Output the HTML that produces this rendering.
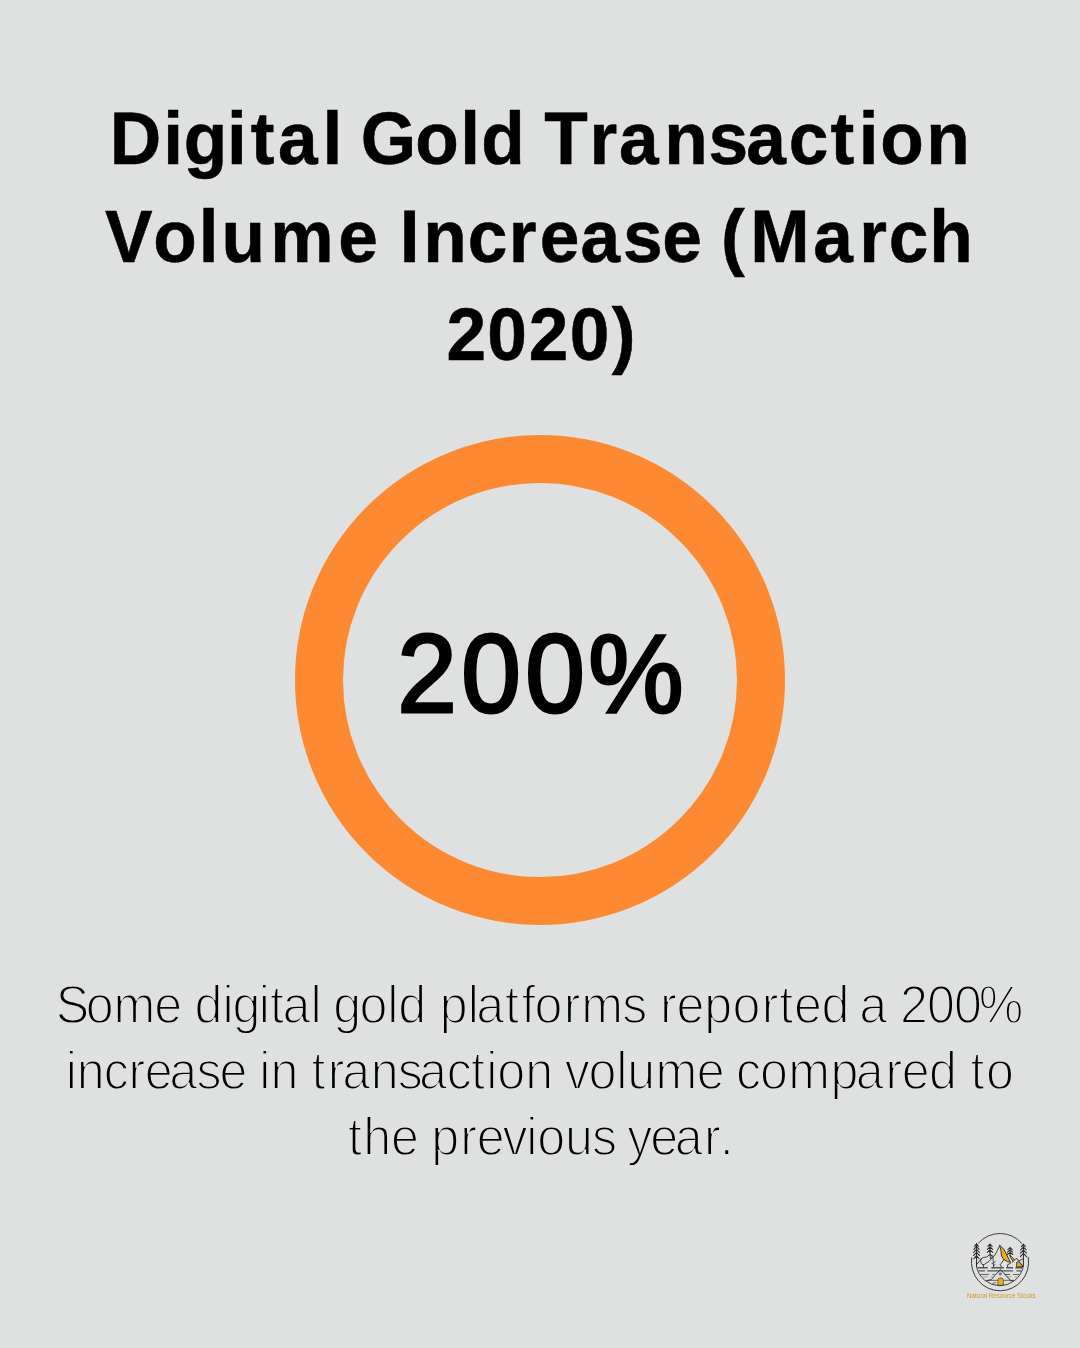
<!DOCTYPE html>
<html lang="en"><head><meta charset="utf-8"><title>Digital Gold Transaction Volume Increase (March 2020)</title>
<style>
html,body{margin:0;padding:0}
html{background:#dfe1e0}
body{width:1080px;height:1348px;background:#dfe1e0;position:relative;overflow:hidden;font-family:"Liberation Sans",sans-serif;color:#000}
.ring{position:absolute;left:295px;top:435px;width:490px;height:490px;border-radius:50%;box-sizing:border-box;border:48.5px solid #fd8a32}
svg.txt{position:absolute;left:0;top:0;font-family:"Liberation Sans",sans-serif;fill:#000}
.t{font-weight:700;font-size:74.5px;stroke:#000;stroke-width:0.55}
.n{font-weight:400;font-size:111px;stroke:#000;stroke-width:3.0}
.b{font-weight:400;font-size:51px;stroke:#dfe1e0;stroke-width:1.75}
</style></head><body>
<div class="ring"></div>
<svg class="txt" width="1080" height="1348" viewBox="0 0 1080 1348">
<text class="t" transform="translate(0,164) scale(0.9562,1.0)" x="114.85 170.67 192.07 237.35 262.29 290.61 337.17 358.87 377.29 434.34 481.22 503.41 550.20 569.12 616.62 647.48 694.59 740.95 780.39 824.99 868.53 898.17 920.62 968.58">Digital Gold Transaction</text>
<text class="t" transform="translate(0,262) scale(0.9562,1.0)" x="109.75 160.26 207.84 231.74 282.55 353.71 396.58 418.19 442.56 489.13 532.06 564.46 607.18 651.48 692.47 735.36 753.91 784.51 850.50 898.69 929.38 971.84">Volume Increase (March</text>
<text class="t" transform="translate(0,360) scale(0.9562,1.0)" x="466.88 509.68 553.09 595.91 639.77">2020)</text>
<text class="n" transform="translate(0,712) scale(0.9653,1.0)" x="411.53 477.84 544.22 609.39">200%</text>
<text class="b" transform="translate(0,1023) scale(0.9844,1.05)" x="56.74 87.20 115.41 156.82 184.63 197.56 226.06 236.27 262.74 274.17 286.87 315.47 326.87 338.49 365.15 393.34 404.55 433.50 446.79 475.12 483.73 513.06 529.69 543.08 572.72 590.42 632.02 656.35 670.40 687.27 715.45 744.08 773.82 791.71 806.63 834.54 863.49 872.95 901.99 914.21 941.81 969.19 994.38">Some digital gold platforms reported a 200%</text>
<text class="b" transform="translate(0,1089) scale(0.9844,1.05)" x="66.76 77.87 105.33 130.63 147.14 171.99 199.64 223.03 250.82 263.48 274.67 303.29 316.36 332.94 347.67 376.73 404.14 425.76 453.85 478.58 493.87 505.05 533.67 562.29 573.68 597.87 626.04 637.12 665.96 707.82 735.62 747.66 772.02 800.71 843.64 869.42 899.42 916.09 943.80 972.75 985.82 1001.73">increase in transaction volume compared to</text>
<text class="b" transform="translate(0,1155) scale(0.9844,1.05)" x="353.40 369.06 397.07 424.86 438.16 467.66 484.27 510.57 534.57 545.66 573.98 601.51 625.84 637.26 660.56 685.33 715.10 731.12">the previous year.</text>
</svg>
<svg style="position:absolute;left:955px;top:1225px" width="100" height="90" viewBox="955 1225 100 90">
<g transform="translate(970,1232) scale(0.05741)" fill="none" stroke="#333" stroke-width="16" stroke-linecap="round" stroke-linejoin="round">
<!-- outer ring with gaps at the trees -->
<path d="M150 190A499 499 0 0 1 900 195"/>
<path d="M1015 440A499 499 0 1 1 30 450" stroke-width="17"/>
<!-- inner bowl -->
<path d="M927 602A415 415 0 0 1 113 602"/>
<!-- lake lines -->
<g stroke="#555" stroke-width="24" stroke-linecap="butt">
<path d="M130 622H310M370 622H590M630 622H750M790 622H910"/>
<path d="M150 678H260M300 678H750M810 678H890"/>
</g>
<g stroke="#444" stroke-width="14" stroke-linecap="butt">
<path d="M180 740H330M390 740H430M600 740H700M750 740H860"/>
<path d="M290 842H480M590 842H750"/>
<path d="M390 895L450 880"/>
</g>
<g stroke="#999" stroke-width="16" stroke-linecap="butt">
<path d="M205 782H310M360 782H400M650 782H720M780 782H830"/>
</g>
<!-- tent -->
<path d="M290 850L370 830L530 650L700 840L760 855"/>
<circle cx="525" cy="730" r="19" stroke-width="12"/>
<path d="M485 922V835Q485 800 532 800Q580 800 580 835V922Z" fill="#f2ad14" stroke="#333" stroke-width="12"/>
<!-- trees -->
<g stroke-width="18" stroke="#2a2a2a">
<path d="M113 195V600M80 248L113 205L146 248M68 302L113 252L158 302M62 356L113 304L164 356M60 410L113 356L166 410M66 466L113 412L160 466"/>
<path d="M348 205V400M310 250L348 210L386 250M302 302L348 258L394 302M300 355L348 310L396 355"/>
<path d="M698 265V420M660 308L698 272L736 308M652 350L698 312L744 350M650 392L698 355L746 392"/>
<path d="M930 210V590M894 255L930 215L966 255M882 312L930 262L978 312M876 368L930 316L984 368M876 430L930 374L984 430"/>
</g>
<!-- mountains -->
<path d="M125 558L195 465Q215 440 290 435L350 390L400 425L430 410L470 335L520 235"/>
<path d="M195 465Q170 510 200 555Q225 580 250 565L330 510L400 440"/>
<path d="M235 572V615"/>
<path d="M400 440L412 612M412 540L440 510M412 590L440 565M408 560L380 545" stroke-width="14"/>
<path d="M355 400L405 430L362 462Z" fill="#f2ad14" stroke-width="16"/>
<path d="M520 235L590 300L640 400L700 520L660 520L590 480L550 420L540 330Z" fill="#f2ad14" stroke-width="17"/>
<path d="M590 480L545 545L525 570L552 612"/>
<path d="M700 520L705 545L655 570V612"/>
<path d="M700 410L780 485L750 510L710 450Z" fill="#f2ad14" stroke-width="17"/>
<path d="M750 510L735 530M780 485L800 462L822 466L852 512L922 592M860 500L930 465"/>
<path d="M820 525L852 518L922 600L820 612Z" fill="#f2ad14" stroke-width="16"/>
</g>
<text x="1001.4" y="1298" text-anchor="middle" font-family="Liberation Sans, sans-serif" font-size="6.45" fill="#d2982c" textLength="68.6" lengthAdjust="spacingAndGlyphs">Natural Resource Stocks</text>
</svg>

</body></html>
